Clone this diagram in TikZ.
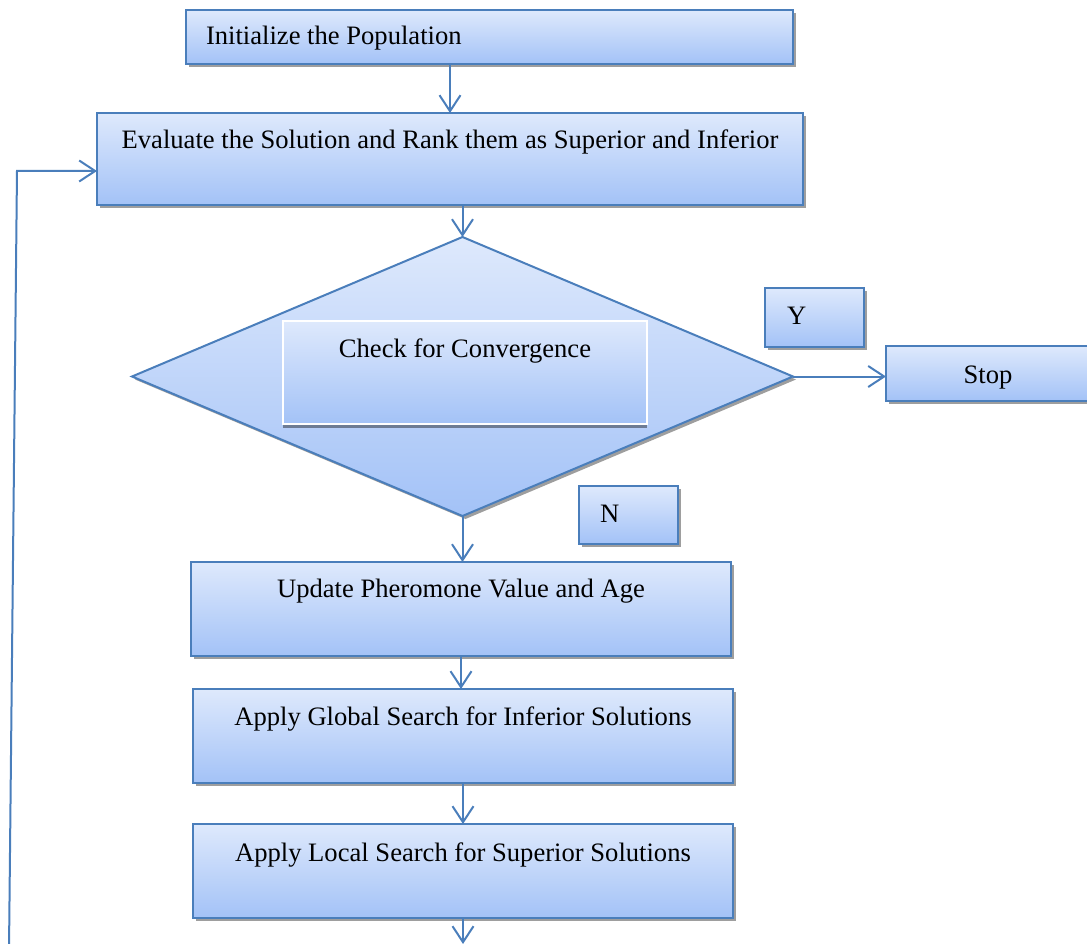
\documentclass[tikz,border=0pt]{standalone}
\usepackage{fontspec}
\setmainfont{Liberation Serif}
\usetikzlibrary{shapes.geometric,shadows,arrows.meta}
\definecolor{edgeblue}{RGB}{74,126,187}
\definecolor{filltop}{RGB}{222,233,252}
\definecolor{fillbot}{RGB}{163,194,247}
\tikzset{
  stepbox/.style={draw=edgeblue, line width=2pt, top color=filltop, bottom color=fillbot,
    inner sep=0pt, outer sep=0pt,
    drop shadow={shadow xshift=3pt, shadow yshift=-3pt, fill=black, opacity=0.38}},
  innerbox/.style={draw=white, line width=1.5pt, top color=filltop, bottom color=fillbot,
    inner sep=0pt, outer sep=0pt,
    drop shadow={shadow xshift=0pt, shadow yshift=-4pt, fill=black, opacity=0.4}},
  decision/.style={stepbox, diamond},
  caption/.style={font=\fontsize{26.6pt}{32pt}\selectfont, inner sep=0pt, outer sep=0pt},
  flow/.style={draw=edgeblue, line width=2pt,
    -{Straight Barb[length=16pt,width=21pt]}},
}
\begin{document}
\begin{tikzpicture}[x=1pt, y=-1pt]
\useasboundingbox (0,0) rectangle (1087,944);

% process boxes
\node[stepbox, minimum width=607, minimum height=54] (init) at (489.5,37) {};
\node[stepbox, minimum width=706, minimum height=92] (eval) at (450,159) {};
\node[decision, minimum width=661, minimum height=279] (check) at (462.5,376.5) {};
\node[innerbox, minimum width=364, minimum height=103] (checkbox) at (465,372.5) {};
\node[stepbox, minimum width=99, minimum height=59] (yes) at (814.5,317.5) {};
\node[stepbox, minimum width=206, minimum height=55] (stop) at (989,373.5) {};
\node[stepbox, minimum width=99, minimum height=58] (no) at (628.5,515) {};
\node[stepbox, minimum width=540, minimum height=94] (update) at (461,609) {};
\node[stepbox, minimum width=540, minimum height=94] (global) at (463,736) {};
\node[stepbox, minimum width=540, minimum height=94] (local) at (463,871) {};

% captions
\node[caption, anchor=base west] (init-t) at (206,45) {Initialize the Population};
\node[caption, anchor=base] (eval-t) at (450,149) {Evaluate the Solution and Rank them as Superior and Inferior};
\node[caption, anchor=base] (check-t) at (465,357) {Check for Convergence};
\node[caption, anchor=base west] (yes-t) at (787,324) {Y};
\node[caption, anchor=base] (stop-t) at (988,383) {Stop};
\node[caption, anchor=base west] (no-t) at (600,522) {N};
\node[caption, anchor=base] (update-t) at (461,597) {Update Pheromone Value and Age};
\node[caption, anchor=base] (global-t) at (463,725) {Apply Global Search for Inferior Solutions};
\node[caption, anchor=base] (local-t) at (463,861) {Apply Local Search for Superior Solutions};

% connectors
\draw[flow] (init.south -| eval.north) -- (eval.north);
\draw[flow] (check.north |- eval.south) -- (check.north);
\draw[flow] (check.east) -- (check.east -| stop.west);
\draw[flow] (check.south) -- (check.south |- update.north);
\draw[flow] (update.south) -- (update.south |- global.north);
\draw[flow] (global.south) -- (global.south |- local.north);
\coordinate (out) at (460,944);
\draw[flow] (local.south) -- (local.south |- out);

% feedback line into the evaluation step
\coordinate (loopfoot) at (9,950);
\coordinate (loopbend) at (17,171);
\draw[flow] (loopfoot) -- (loopbend) -- (loopbend -| eval.west);
\end{tikzpicture}
\end{document}
